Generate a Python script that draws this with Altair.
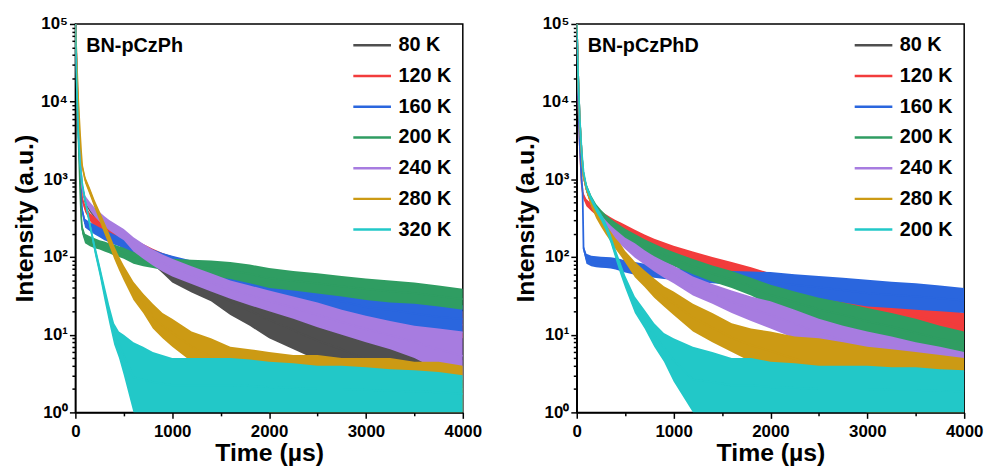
import altair as alt
import pandas as pd

# time grid (µs)
T = [0, 15, 30, 50, 60, 70, 100, 150, 200, 250, 300, 350, 400, 450, 500,
     600, 700, 800, 900, 1000, 1200, 1400, 1600, 1800, 2000,
     2250, 2500, 2750, 3000, 3250, 3500, 3750, 4000]

KEYS = ["a", "b", "c", "d", "e", "f", "g"]
LABELS_L = ["80 K", "120 K", "160 K", "200 K", "240 K", "280 K", "320 K"]
LABELS_R = ["80 K", "120 K", "160 K", "200 K", "240 K", "280 K", "200 K"]
COLORS = ["#4f4f4f", "#f23c3c", "#2a66de", "#2f9d62", "#a77ce0", "#cc9a14", "#22c8c8"]

# ---- BN-pCzPh (left): lower / upper envelope of the noisy decay ----
L80_LO = [1e5, 2e4, 6000, 1800, 1100, 800, 480, 380, 320, 280, 250, 225, 200, 180, 165, 120, 100, 80, 62, 47, 35, 27, 18, 13, 9, 6.5, 4.7, 3.5, 2.3, 1.5, 1, 1, 1]
L80_HI = [1e5, 2e4, 6000, 1800, 1100, 800, 560, 450, 390, 340, 300, 270, 245, 222, 205, 165, 140, 118, 98, 80, 62, 52, 40, 32, 27, 20, 15, 12, 10, 8, 7, 5.5, 4.7]
L120_LO = [1e5, 2e4, 6000, 1500, 800, 520, 380, 290, 245, 220, 200, 185, 170, 155, 142, 120, 103, 90, 80, 72, 58, 48, 40, 34, 28, 24, 19, 16.5, 13.5, 12, 11, 10, 9]
L120_HI = [1e5, 2e4, 6000, 1500, 800, 600, 470, 370, 330, 300, 272, 250, 232, 215, 198, 170, 147, 128, 113, 102, 86, 74, 64, 56, 50, 44, 38, 34, 30, 27, 25, 22, 20]
L160_LO = [1e5, 1.8e4, 5000, 1200, 600, 360, 240, 215, 195, 180, 165, 155, 145, 138, 128, 112, 100, 88, 80, 72, 60, 50, 43, 38, 32, 27, 22, 19, 15, 14, 12.5, 11, 10.5]
L160_HI = [1e5, 1.8e4, 5000, 1200, 600, 440, 310, 280, 260, 240, 225, 210, 195, 185, 175, 155, 140, 125, 113, 104, 90, 78, 70, 62, 56, 49, 43, 38, 34, 31, 28, 26, 24]
L200_LO = [1e5, 1.5e4, 4000, 700, 330, 200, 150, 138, 130, 125, 118, 112, 105, 100, 95, 82, 76, 72, 68, 66, 60, 56, 52, 46, 40, 37, 34, 31, 28, 26, 25, 23, 21]
L200_HI = [1e5, 1.5e4, 4000, 700, 330, 260, 200, 185, 175, 165, 158, 150, 145, 138, 132, 116, 110, 104, 98, 95, 92, 90, 86, 80, 72, 66, 62, 57, 53, 50, 47, 43, 39]
L240_LO = [1e5, 2.5e4, 8000, 2000, 1200, 720, 500, 400, 330, 285, 250, 220, 200, 180, 165, 118, 95, 78, 65, 56, 45, 36, 29, 24, 20, 16, 12.5, 10, 8, 6.5, 5, 3.5, 2.6]
L240_HI = [1e5, 2.5e4, 8000, 2000, 1200, 880, 620, 510, 430, 380, 335, 300, 275, 250, 230, 180, 148, 125, 108, 95, 76, 62, 50, 43, 37, 31, 26, 21, 17.5, 15, 13, 12, 11]
L280_LO = [1e5, 3e4, 1e4, 3500, 2200, 1400, 900, 620, 420, 290, 200, 140, 95, 68, 50, 28, 19, 12, 9, 7, 4.5, 3, 2.3, 1.5, 1, 1, 1, 1, 1, 1, 1, 1, 1]
L280_HI = [1e5, 3e4, 1e4, 3500, 2200, 1600, 1100, 780, 540, 390, 280, 200, 140, 102, 78, 48, 34, 25, 19, 16, 11, 9, 7, 6.5, 6, 5.5, 5.5, 5, 5, 5, 4.5, 4.5, 4]
L320_LO = [1e5, 1.5e4, 4000, 1500, 1150, 850, 500, 230, 110, 58, 28, 14, 7.5, 5, 3, 1, 1, 1, 1, 1, 1, 1, 1, 1, 1, 1, 1, 1, 1, 1, 1, 1, 1]
L320_HI = [1e5, 1.5e4, 4000, 1500, 1150, 950, 600, 290, 150, 82, 44, 24, 14, 11, 10, 8, 7, 6, 5.5, 5, 5, 5, 5, 4.8, 4.5, 4.3, 4, 4, 3.8, 3.6, 3.5, 3.3, 3]

# ---- BN-pCzPhD (right) ----
R80_LO = [1e5, 2e4, 6000, 2200, 1500, 1020, 700, 460, 345, 280, 232, 196, 170, 150, 132, 103, 84, 68, 57, 48, 34, 27, 21, 16, 13, 10, 7.5, 6, 4.5, 3.5, 2.8, 2.4, 2]
R80_HI = [1e5, 2e4, 6000, 2200, 1500, 1180, 800, 540, 415, 340, 288, 248, 218, 194, 172, 145, 118, 98, 84, 73, 53, 42, 34, 28, 24, 19, 15, 12, 10, 8.5, 7.5, 6.5, 5.5]
R120_LO = [1e5, 1.2e4, 3000, 900, 700, 550, 450, 390, 345, 305, 275, 250, 225, 205, 188, 160, 138, 120, 106, 94, 78, 66, 56, 46, 38, 29, 24, 19, 15, 13.5, 12, 10, 8.5]
R120_HI = [1e5, 1.2e4, 3000, 900, 700, 660, 560, 490, 435, 390, 355, 325, 300, 280, 260, 225, 195, 172, 155, 140, 118, 100, 86, 74, 62, 50, 42, 36, 31, 28, 25, 22, 19]
R160_LO = [1e5, 1.2e4, 3000, 1000, 700, 118, 82, 76, 74, 73, 72, 71, 69, 66, 63, 59, 56, 54, 52, 51, 48, 46, 44, 40, 35, 32, 29, 26, 23, 22, 21, 20, 19]
R160_HI = [1e5, 1.2e4, 3000, 1000, 700, 142, 110, 104, 102, 101, 100, 99, 97, 94, 90, 86, 82, 78, 75, 72, 69, 67, 66, 65, 64, 60, 57, 54, 51, 48, 46, 43, 40]
R200_LO = [1e5, 2e4, 6000, 2200, 1500, 1050, 720, 500, 380, 315, 270, 235, 210, 188, 170, 140, 118, 100, 86, 76, 60, 48, 40, 32, 24, 19, 15, 12.5, 10, 8.5, 7, 6, 5.5]
R200_HI = [1e5, 2e4, 6000, 2200, 1500, 1250, 880, 620, 480, 405, 350, 310, 280, 255, 232, 198, 170, 148, 130, 116, 94, 78, 66, 54, 44, 36, 30, 26, 22, 19, 16, 13, 11]
R240_LO = [1e5, 2e4, 6000, 2200, 1500, 1000, 680, 450, 335, 270, 225, 190, 165, 145, 127, 98, 80, 65, 54, 46, 32, 25, 19, 15, 12, 9, 7, 5.5, 4, 3.2, 2.6, 2.2, 1.9]
R240_HI = [1e5, 2e4, 6000, 2200, 1500, 1200, 820, 550, 425, 350, 295, 255, 225, 200, 177, 150, 122, 102, 88, 77, 56, 45, 37, 31, 27, 21, 16, 13, 11, 9.5, 8, 7, 6]
R280_LO = [1e5, 2e4, 6000, 2200, 1500, 1020, 680, 440, 315, 245, 195, 158, 127, 105, 85, 55, 41, 30, 23, 18, 11, 8, 6, 4.5, 3.5, 2.5, 1.8, 1.2, 1, 1, 1, 1, 1]
R280_HI = [1e5, 2e4, 6000, 2200, 1500, 1180, 830, 560, 405, 320, 265, 215, 175, 148, 120, 87, 67, 53, 42, 36, 25, 19, 14, 12, 11, 9.5, 9, 8, 7, 6.5, 6, 5.5, 5]
R200C_LO = [1e5, 2e4, 6500, 2400, 1700, 1170, 730, 510, 380, 295, 220, 150, 95, 60, 40, 19, 12, 7, 4.5, 2.5, 1, 1, 1, 1, 1, 1, 1, 1, 1, 1, 1, 1, 1]
R200C_HI = [1e5, 2e4, 6500, 2400, 1700, 1330, 870, 610, 460, 365, 280, 195, 128, 86, 58, 31, 21, 14, 10.5, 9, 7, 6, 5, 5, 4.5, 4.3, 4, 4, 4, 3.8, 3.8, 3.6, 3.5]

LEFT = [(L80_LO, L80_HI), (L120_LO, L120_HI), (L160_LO, L160_HI), (L200_LO, L200_HI),
        (L240_LO, L240_HI), (L280_LO, L280_HI), (L320_LO, L320_HI)]
RIGHT = [(R80_LO, R80_HI), (R120_LO, R120_HI), (R160_LO, R160_HI), (R200_LO, R200_HI),
         (R240_LO, R240_HI), (R280_LO, R280_HI), (R200C_LO, R200C_HI)]

FONT = "Liberation Sans"
Y_TICKS = [m * 10 ** k for k in range(5) for m in range(1, 10)] + [100000]
X_TICKS = list(range(0, 4001, 500))

sup = {1: "10\u2070", 10: "10\u00b9", 100: "10\u00b2", 1000: "10\u00b3", 10000: "10\u2074", 100000: "10\u2075"}
y_label_expr = " : ".join([f"datum.value == {v} ? '{s}'" for v, s in sup.items()]) + " : ''"

xscale = alt.Scale(domain=[0, 4000], nice=False, zero=False)
yscale = alt.Scale(type="log", domain=[1, 100000], nice=False)

xaxis = alt.Axis(values=X_TICKS, format="d", title="Time (\u00b5s)",
                 labelExpr="datum.value % 1000 == 0 ? datum.label : ''",
                 tickSize={"condition": {"test": "datum.value % 1000 == 0", "value": 6}, "value": 3.5},
                 labelFlush=False, labelOverlap=False, labelPadding=5, titlePadding=2)
yaxis = alt.Axis(values=Y_TICKS, title="Intensity (a.u.)", labelExpr=y_label_expr,
                 tickSize={"condition": {"test": "indexof([1,10,100,1000,10000,100000], datum.value) >= 0",
                                         "value": 6}, "value": 3.5},
                 labelOverlap=False, labelFlush=False, labelPadding=2, titlePadding=3)


def panel(series, labels, name):
    label_expr = ("[" + ",".join(f"'{l}'" for l in labels) + "][indexof(["
                  + ",".join(f"'{k}'" for k in KEYS) + "], datum.label)]")
    color = alt.Color("key:N", scale=alt.Scale(domain=KEYS, range=COLORS),
                      legend=alt.Legend(title=None, orient="none", legendX=279, legendY=1,
                                        symbolType="stroke", symbolSize=1444, symbolStrokeWidth=2.5,
                                        symbolFillColor="transparent", symbolOpacity=1,
                                        labelFont=FONT, labelFontSize=20,
                                        labelFontWeight="bold", labelColor="black", labelOffset=6,
                                        rowPadding=-15.4, padding=0, labelExpr=label_expr))
    layers = []
    for key, (lo, hi) in zip(KEYS, series):
        df = pd.DataFrame({"t": T, "lo": lo, "hi": hi})
        df["mid"] = (df["lo"] * df["hi"]) ** 0.5
        df["key"] = key
        base = alt.Chart(df)
        layers.append(base.mark_area(clip=True, interpolate="linear").encode(
            x=alt.X("t:Q", scale=xscale, axis=xaxis),
            y=alt.Y("lo:Q", scale=yscale, axis=yaxis),
            y2="hi:Q", color=color))
        layers.append(base.mark_line(clip=True, strokeWidth=1.8).encode(
            x=alt.X("t:Q", scale=xscale, axis=xaxis),
            y=alt.Y("mid:Q", scale=yscale, axis=yaxis),
            color=color))
    txt = alt.Chart(pd.DataFrame({"name": [name]})).mark_text(
        align="left", baseline="middle", font=FONT, fontSize=20, fontWeight="bold", color="black"
    ).encode(text="name:N", x=alt.value(11), y=alt.value(22))
    layers.append(txt)
    return alt.layer(*layers).properties(width=391, height=392)


left = panel(LEFT, LABELS_L, "BN-pCzPh")
right = panel(RIGHT, LABELS_R, "BN-pCzPhD")

chart = alt.hconcat(left, right, spacing=30).resolve_scale(color="independent").properties(
    padding={"left": 3, "top": 4, "right": 0, "bottom": 0}
).configure_view(stroke="black", strokeWidth=1.5).configure_axis(
    grid=False, domainColor="black", domainWidth=1.5, tickColor="black", tickWidth=1.5,
    labelFont=FONT, labelFontSize=17, labelFontWeight="bold", labelColor="black",
    titleFont=FONT, titleFontSize=25, titleFontWeight="bold", titleColor="black"
)

chart.save("out.html", embed_options={"renderer": "svg", "actions": False})
